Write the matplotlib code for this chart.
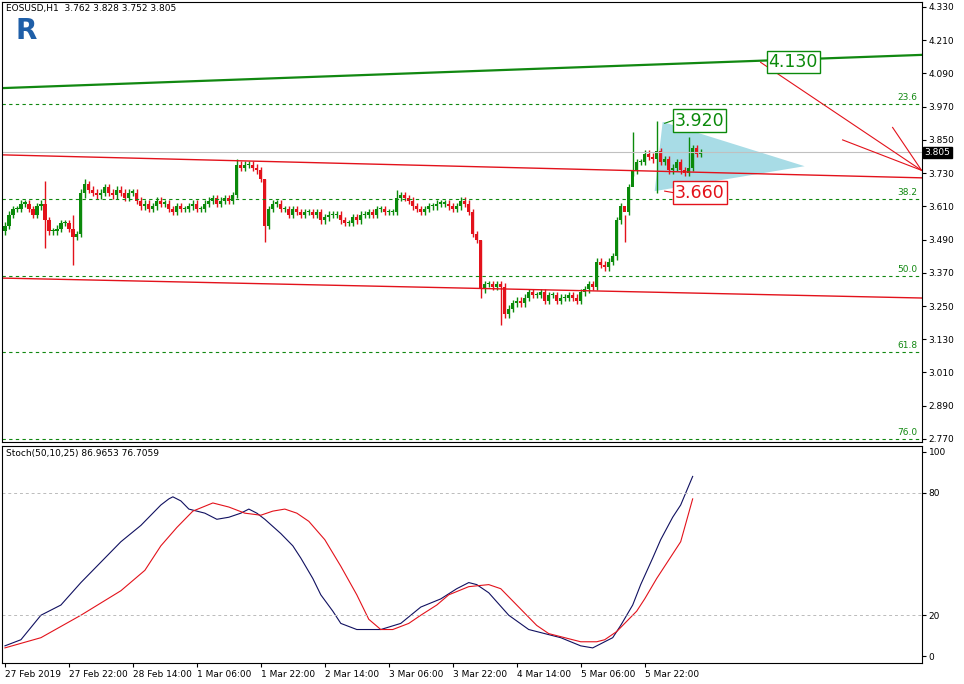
import numpy as np
import matplotlib.pyplot as plt
from matplotlib.patches import Polygon

# hourly closes, one bar per hour starting 27 Feb 2019
closes = [3.54, 3.58, 3.60, 3.60, 3.62, 3.62, 3.60, 3.58, 3.61, 3.62,
          3.56, 3.52, 3.52, 3.53, 3.55, 3.55, 3.53, 3.50, 3.51, 3.66,
          3.69, 3.67, 3.66, 3.65, 3.66, 3.68, 3.66, 3.65, 3.67, 3.66,
          3.64, 3.66, 3.66, 3.63, 3.61, 3.62, 3.60, 3.61, 3.63, 3.62,
          3.62, 3.60, 3.59, 3.61, 3.60, 3.60, 3.61, 3.62, 3.60, 3.60,
          3.62, 3.63, 3.64, 3.62, 3.63, 3.64, 3.63, 3.65, 3.76, 3.75,
          3.76, 3.76, 3.75, 3.74, 3.71, 3.54, 3.60, 3.62, 3.62, 3.60,
          3.60, 3.58, 3.60, 3.59, 3.58, 3.59, 3.59, 3.58, 3.59, 3.56,
          3.57, 3.58, 3.58, 3.58, 3.56, 3.55, 3.55, 3.57, 3.56, 3.58,
          3.58, 3.59, 3.58, 3.60, 3.60, 3.59, 3.59, 3.59, 3.64, 3.65,
          3.64, 3.63, 3.61, 3.60, 3.59, 3.60, 3.61, 3.61, 3.62, 3.62,
          3.62, 3.61, 3.60, 3.61, 3.63, 3.62, 3.59, 3.51, 3.49, 3.31,
          3.33, 3.33, 3.32, 3.33, 3.32, 3.22, 3.24, 3.26, 3.27, 3.26,
          3.28, 3.30, 3.29, 3.29, 3.30, 3.27, 3.29, 3.29, 3.27, 3.28,
          3.28, 3.29, 3.28, 3.27, 3.30, 3.31, 3.33, 3.32, 3.41, 3.40,
          3.39, 3.41, 3.43, 3.56, 3.61, 3.59, 3.68, 3.74, 3.77, 3.77,
          3.80, 3.79, 3.78, 3.81, 3.77, 3.78, 3.74, 3.75, 3.77, 3.74,
          3.73, 3.75, 3.82, 3.80, 3.805]
open0 = 3.52
# long wicks (bar index: (high, low))
wicks = {10: (3.70, 3.46), 17: (3.58, 3.40), 20: (3.71, 3.64), 58: (3.78, 3.64),
         65: (3.71, 3.48), 98: (3.67, 3.58), 119: (3.49, 3.28), 124: (3.34, 3.18),
         155: (3.58, 3.48), 157: (3.88, 3.72), 163: (3.92, 3.66), 171: (3.86, 3.72)}

price_ticks = [4.330, 4.210, 4.090, 3.970, 3.850, 3.730, 3.610, 3.490,
               3.370, 3.250, 3.130, 3.010, 2.890, 2.770]
fib_levels = [3.980, 3.636, 3.360, 3.084, 2.770]
fib_names = ['23.6', '38.2', '50.0', '61.8', '76.0']
time_labels = ['27 Feb 2019', '27 Feb 22:00', '28 Feb 14:00', '1 Mar 06:00',
               '1 Mar 22:00', '2 Mar 14:00', '3 Mar 06:00', '3 Mar 22:00',
               '4 Mar 14:00', '5 Mar 06:00', '5 Mar 22:00']

# stochastic, sampled at bar positions
stoch_x = [0, 4, 9, 14, 19, 24, 29, 34, 37, 39, 41, 42, 44, 46, 50, 53, 56, 59, 61,
           63, 65, 69, 72, 74, 77, 79, 82, 84, 88, 91, 94, 99, 104, 109, 113, 116, 118,
           121, 126, 131, 135, 139, 144, 147, 149, 152, 154, 157, 159, 162, 164, 167,
           169, 172]
stoch_main = [5, 8, 20, 25, 36, 46, 56, 64, 70, 74, 77, 78, 76, 72, 70, 67, 68, 70, 72,
              70, 67, 60, 54, 48, 38, 30, 22, 16, 13, 13, 13, 16, 24, 28, 33, 36, 35,
              31, 20, 13, 11, 9, 5, 4, 6, 9, 15, 25, 35, 48, 57, 68, 74, 88]
sig_x = [0, 9, 19, 29, 35, 39, 43, 47, 52, 56, 60, 64, 67, 70, 73, 76, 80, 84, 88, 91,
         94, 97, 101, 104, 108, 111, 116, 121, 124, 129, 133, 136, 140, 144, 148, 150,
         153, 155, 158, 160, 163, 166, 169, 172]
stoch_sig = [4, 9, 20, 32, 42, 54, 63, 71, 75, 73, 70, 69, 71, 72, 70, 66, 57, 44, 30, 18,
             13, 13, 16, 20, 25, 30, 34, 35, 33, 23, 15, 11, 9, 7, 7, 8, 12, 16, 22, 28,
             38, 47, 56, 77]

green = '#0b8a0b'
red = '#e3121b'

fig = plt.figure(figsize=(9.64, 6.84), dpi=100)
ax = fig.add_axes([0.002, 242 / 684, 0.954, 440 / 684])
ax2 = fig.add_axes([0.002, 21 / 684, 0.954, 217 / 684])

n = len(closes)
opens = [open0] + closes[:-1]
for i in range(n):
    o, c = opens[i], closes[i]
    hi, lo = wicks.get(i, (max(o, c) + 0.012, min(o, c) - 0.012))
    col = green if c >= o else red
    ax.vlines(i, lo, hi, color=col, lw=1)
    ax.bar(i, max(abs(c - o), 0.004), bottom=min(o, c), width=0.8, color=col, lw=0)

x0, x1 = -0.75, 229.25
ax.set_xlim(x0, x1)
ax.set_ylim(2.759, 4.348)

# trend lines
ax.plot([x0, x1], [4.037, 4.157], color='#118811', lw=1.6)
ax.plot([x0, x1], [3.796, 3.713], color=red, lw=1)
ax.plot([x0, x1], [3.351, 3.279], color=red, lw=1)
for lv, nm in zip(fib_levels, fib_names):
    ax.axhline(lv, color='#118811', lw=0.8, ls=(0, (3, 3)))
    ax.text(x1 - 1, lv + 0.006, nm, color='#118811', fontsize=6.5, ha='right', va='bottom')
ax.axhline(3.805, color='#c0c0c0', lw=0.8)

# arrows to the right edge
for (xa, ya) in [(189, 4.13), (209.5, 3.85), (222, 3.895)]:
    ax.plot([xa, x1], [ya, 3.74], color=red, lw=0.8)

tri = Polygon([[164.5, 3.915], [162.5, 3.665], [200, 3.755]], closed=True,
              color='#a8dce6', lw=0)
ax.add_patch(tri, )
tri.set_zorder(0.5)
ax.plot([165, 167], [3.91, 3.92], color=green, lw=0.8)
ax.text(167.5, 3.92, '3.920', color=green, fontsize=12.5, va='center',
        bbox=dict(fc='white', ec=green, lw=1, pad=1.5))
ax.plot([165, 167], [3.665, 3.66], color=red, lw=0.8)
ax.text(167.5, 3.66, '3.660', color=red, fontsize=12.5, va='center',
        bbox=dict(fc='white', ec=red, lw=1, pad=1.5))
ax.text(191, 4.13, '4.130', color=green, fontsize=12.5, va='center',
        bbox=dict(fc='white', ec=green, lw=1, pad=1.5))

ax.yaxis.tick_right()
ax.set_yticks(price_ticks)
ax.set_yticklabels([f'{v:.3f}' for v in price_ticks], fontsize=6.5)
ax.text(1.003, 3.805, '3.805', transform=ax.get_yaxis_transform(), fontsize=6.5,
        color='white', va='center', ha='left', bbox=dict(fc='black', ec='black', pad=1))
ax.set_xticks([])
ax.text(0.004, 0.995, 'EOSUSD,H1  3.762 3.828 3.752 3.805', transform=ax.transAxes,
        fontsize=6.5, va='top')
ax.text(0.015, 0.935, 'R', transform=ax.transAxes, fontsize=20, fontweight='bold',
        color='#1f5fa8', va='center')

ax2.plot(stoch_x, stoch_main, color='#101060', lw=0.8)
ax2.plot(sig_x, stoch_sig, color=red, lw=0.8)
for lv in (80, 20):
    ax2.axhline(lv, color='#bbbbbb', lw=0.7, ls=(0, (3, 3)))
ax2.set_xlim(x0, x1)
ax2.set_ylim(-3.4, 102.9)
ax2.yaxis.tick_right()
ax2.set_yticks([100, 80, 20, 0])
ax2.set_yticklabels(['100', '80', '20', '0'], fontsize=6.5)
ax2.set_xticks(np.arange(len(time_labels)) * 16)
ax2.set_xticklabels(time_labels, fontsize=6.5, ha='left')
ax2.text(0.004, 0.985, 'Stoch(50,10,25) 86.9653 76.7059', transform=ax2.transAxes,
         fontsize=6.5, va='top')
for a in (ax, ax2):
    a.tick_params(length=3, pad=2)
    for s in a.spines.values():
        s.set_linewidth(0.8)

fig.savefig('out.png', dpi=100)
